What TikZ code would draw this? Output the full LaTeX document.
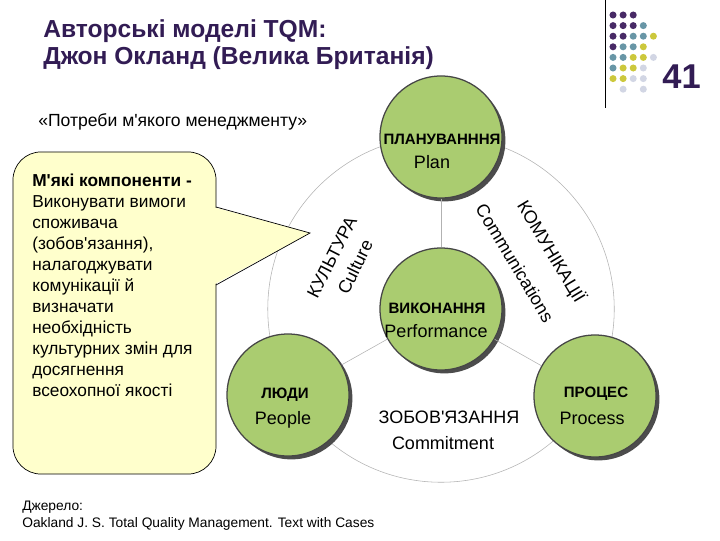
\documentclass[tikz,border=0pt]{standalone}
\usepackage{fontspec}
\setmainfont{Liberation Sans}[Ligatures=TeXOff]
\usetikzlibrary{shadows}
\definecolor{titlepurple}{RGB}{50,28,84}
\definecolor{stagegreen}{RGB}{170,204,112}
\definecolor{notefill}{RGB}{255,255,204}
\definecolor{dotP}{RGB}{72,42,102}
\definecolor{dotT}{RGB}{104,150,166}
\definecolor{dotY}{RGB}{204,200,60}
\definecolor{dotG}{RGB}{210,214,228}

\tikzset{
  stage/.style={circle, minimum size=3.05cm, inner sep=0pt, fill=stagegreen,
    draw=gray!55!black, line width=0.9pt,
    drop shadow={shadow xshift=2.4pt, shadow yshift=-2.4pt, fill=gray!60!black, opacity=1}},
  ua/.style={font=\fontsize{10.7}{12}\selectfont\bfseries, anchor=base, inner sep=0pt},
  en/.style={font=\fontsize{12.8}{15}\selectfont, anchor=base, inner sep=0pt},
  rot/.style={font=\fontsize{12.8}{15}\selectfont, inner sep=0pt},
  spoke/.style={draw=gray!60, line width=0.4pt},
  ring/.style={draw=gray!60, line width=0.4pt},
  notebox/.style={rectangle, rounded corners=0.7cm, minimum width=5.075cm, minimum height=8.05cm,
    fill=notefill, draw=black, line width=0.5pt},
}

\begin{document}
\begin{tikzpicture}[x=0.025cm, y=-0.025cm]
\useasboundingbox (0,0) rectangle (720,540);

% title
\node[anchor=base west, inner sep=0pt, text=titlepurple, font=\fontsize{17.5}{20}\selectfont\bfseries] (t1) at (43,37) {Авторські моделі TQM:};
\node[anchor=base west, inner sep=0pt, text=titlepurple, font=\fontsize{17.5}{20}\selectfont\bfseries] (t2) at (43,64) {Джон Окланд (Велика Британія)};
\node[anchor=base, inner sep=0pt, text=titlepurple, font=\fontsize{24.5}{28}\selectfont\bfseries] (num) at (681.5,88) {41};
\coordinate (rtop) at (605,0);
\coordinate (rbot) at (605,108);
\draw[line width=0.6pt] (rtop) -- (rbot);
\foreach \r/\c/\col in {0/0/dotP,0/1/dotP,0/2/dotP,
  1/0/dotP,1/1/dotP,1/2/dotP,1/3/dotT,
  2/0/dotP,2/1/dotP,2/2/dotT,2/3/dotT,2/4/dotY,
  3/0/dotP,3/1/dotT,3/2/dotT,3/3/dotY,
  4/0/dotT,4/1/dotT,4/2/dotY,4/3/dotY,4/4/dotG,
  5/0/dotT,5/1/dotY,5/2/dotY,5/3/dotG,
  6/0/dotY,6/1/dotY,6/2/dotG,6/3/dotG,
  7/1/dotG,7/3/dotG}
  \fill[\col] ({613+10.1*\c},{15+10.6*\r}) circle[radius=2.5pt];

\node[anchor=base west, inner sep=0pt, font=\fontsize{12.5}{15}\selectfont] (sub) at (38,126) {«Потреби м'якого менеджменту»};

% ring and stages
\coordinate (hub) at (441,309);
\draw[ring] (hub) circle[radius=4.33cm];

% callout
\node[notebox] (note) at (114.5,313) {};
\coordinate (tip) at (310,233);
\fill[notefill] (213,207) -- (tip) -- (213,285) -- cycle;
\draw[line width=0.5pt] (216,207) -- (tip) -- (216,285);
\node[anchor=north west, align=left, inner sep=0pt, font=\fontsize{12.3}{14.9}\selectfont] (notetext) at (32,174)
  {\textbf{М'які компоненти -}\\Виконувати вимоги\\споживача\\(зобов'язання),\\налагоджувати\\комунікації й\\визначати\\необхідність\\культурних змін для\\досягнення\\всеохопної якості};

\node[stage] (plan) at (441,137) {};
\node[stage] (perf) at (hub) {};
\node[stage] (people) at (288,395) {};
\node[stage] (proc) at (595,396) {};
\draw[spoke] (perf) -- (plan);
\draw[spoke] (perf) -- (people);
\draw[spoke] (perf) -- (proc);

\node[ua] (planua) at (442,144) {ПЛАНУВАНННЯ};
\node[en] (planen) at (432,168) {Plan};
\node[ua] (perfua) at (437,313) {ВИКОНАННЯ};
\node[en] (perfen) at (436,337) {Performance};
\node[ua] (peopleua) at (285,398) {ЛЮДИ};
\node[en] (peopleen) at (283,424) {People};
\node[ua] (procua) at (596,397) {ПРОЦЕС};
\node[en] (procen) at (592,424) {Process};
\node[en] (commitua) at (449,423) {ЗОБОВ'ЯЗАННЯ};
\node[en] (commiten) at (443,449) {Commitment};

\node[rot, rotate=63] (cultua) at (332,257) {КУЛЬТУРА};
\node[rot, rotate=64] (culten) at (355,267) {Culture};
\node[rot, rotate=-59] (commsua) at (551,252) {КОМУНІКАЦІЇ};
\node[rot, rotate=-59] (commsen) at (515,263) {Communications};

% source
\node[anchor=base west, inner sep=0pt, font=\fontsize{9.8}{12}\selectfont] (src1) at (22,510) {Джерело:};
\node[anchor=base west, inner sep=0pt, font=\fontsize{9.8}{12}\selectfont] (src2) at (22,527) {Oakland J. S. Total Quality Management. Text with Cases};
\end{tikzpicture}
\end{document}
